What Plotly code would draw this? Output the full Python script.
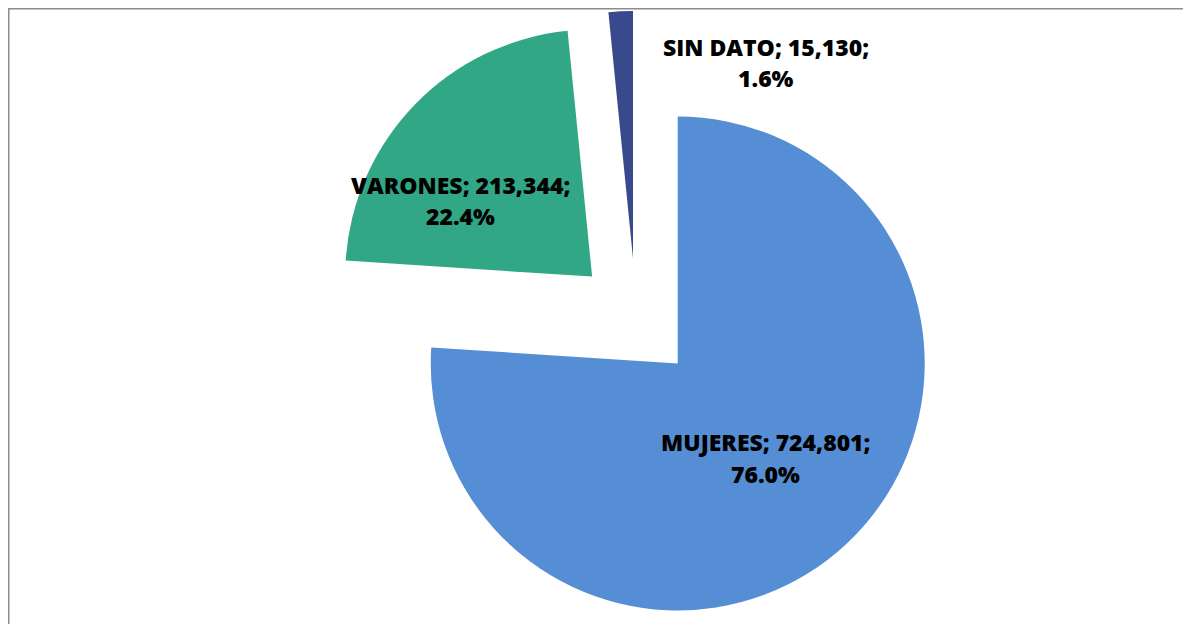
import plotly.graph_objects as go

categories = ["MUJERES", "VARONES", "SIN DATO"]
values = [724801, 213344, 15130]
colors = ["#558ED5", "#31A785", "#394A8C"]

W, H = 1191, 624
total = sum(values)
pcts = [v / total * 100 for v in values]

fig = go.Figure()
fig.add_trace(go.Pie(
    labels=categories,
    values=values,
    sort=False,
    direction="clockwise",
    rotation=0,
    pull=[0.247, 0.247, 0.247],
    marker=dict(colors=colors, line=dict(width=0)),
    textinfo="none",
    hoverinfo="label+value+percent",
    showlegend=False,
    domain=dict(x=[0.1973, 0.8573], y=[0.00801, 0.99519]),
))

# label centres in figure pixels: (x, line-1 y, line-2 y)
label_pos = {
    "MUJERES": (757, 434, 466),
    "VARONES": (452, 177, 208),
    "SIN DATO": (758, 39, 70),
}
font = dict(family="Open Sans", size=23, color="#000000", weight=800)
for cat, val, p in zip(categories, values, pcts):
    cx, y1, y2 = label_pos[cat]
    fig.add_annotation(x=cx / W, y=1 - y1 / H, xref="paper", yref="paper",
                       text=f"{cat}; {val:,};", showarrow=False,
                       font=font, xanchor="center", yanchor="middle")
    fig.add_annotation(x=cx / W, y=1 - y2 / H, xref="paper", yref="paper",
                       text=f"{p:.1f}%", showarrow=False,
                       font=font, xanchor="center", yanchor="middle")

# chart area border (left and top edges visible)
fig.add_shape(type="line", xref="paper", yref="paper",
              x0=0, x1=0, y0=-0.1, y1=1.0,
              line=dict(color="#8C8C8C", width=3))
fig.add_shape(type="line", xref="paper", yref="paper",
              x0=0, x1=1.1, y0=1.0, y1=1.0,
              line=dict(color="#8C8C8C", width=3))

fig.update_layout(
    width=W, height=H,
    margin=dict(l=0, r=0, t=0, b=0),
    paper_bgcolor="white",
    plot_bgcolor="white",
)

fig.write_html("out.html")
